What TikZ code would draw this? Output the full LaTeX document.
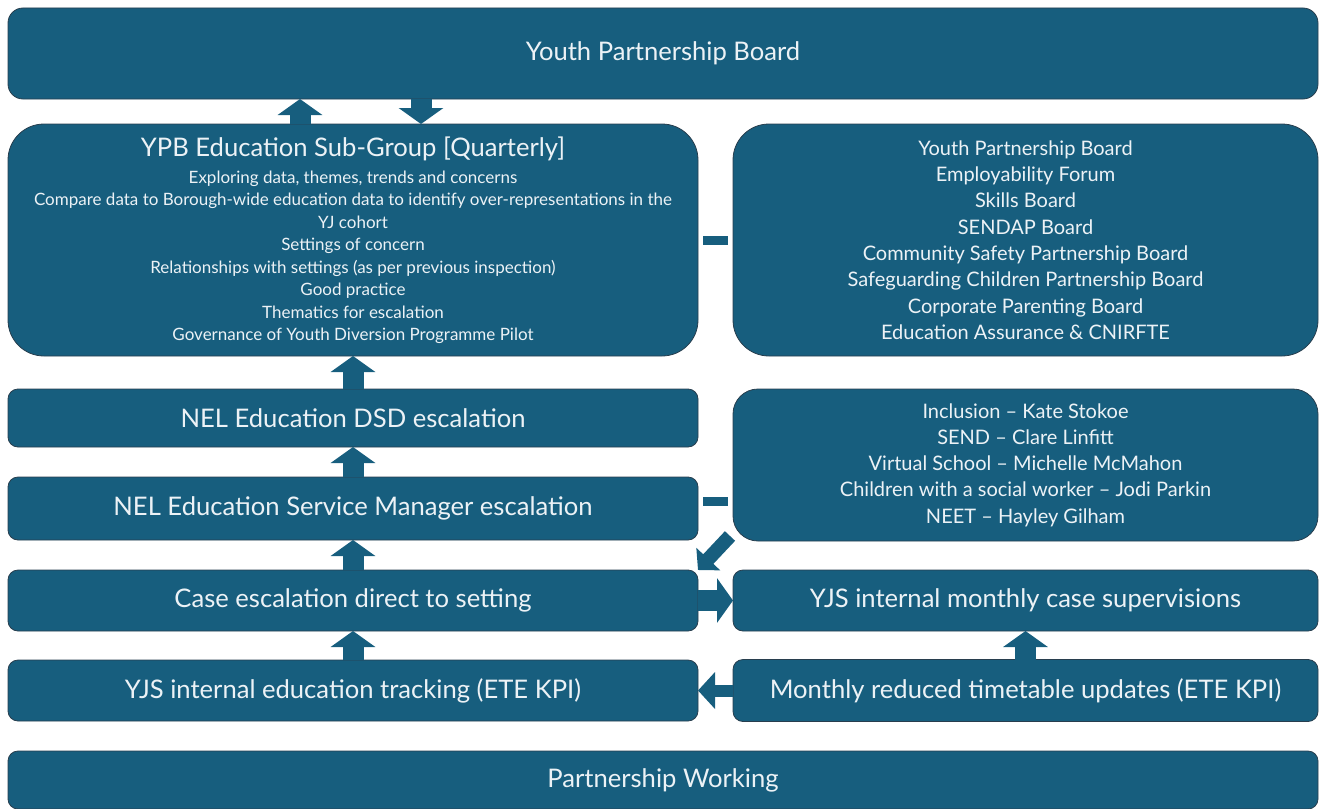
\documentclass[tikz,border=0pt]{standalone}
\usepackage{fontspec}
\setmainfont{Lato}
\usetikzlibrary{positioning,arrows.meta}

\definecolor{boxblue}{RGB}{23,94,126}
\definecolor{boxedge}{RGB}{40,62,78}
\definecolor{boxtext}{RGB}{236,242,246}

\begin{document}
\begin{tikzpicture}[x=1pt, y=-1pt,
    block/.style={rectangle, draw=boxedge, line width=0.8pt, fill=boxblue, text=boxtext, rounded corners=10pt, align=center, inner sep=0pt, outer sep=0pt},
    wbox/.style={block, minimum width=1310pt},
    lbox/.style={block, minimum width=690pt},
    rbox/.style={block, minimum width=585pt},
    bigtext/.style={font=\fontsize{25.6}{30}\selectfont},
    smalltext/.style={font=\fontsize{17}{22.5}\selectfont},
    midtext/.style={font=\fontsize{20}{26.3}\selectfont},
    blockarrow/.style={line width=21pt, draw=boxblue, -{Triangle[width=44pt,length=16pt]}},
    link/.style={line width=9pt, draw=boxblue}
]
\useasboundingbox (0,0) rectangle (1321,808);

% Board on top
\node[wbox, bigtext, minimum height=91pt, rounded corners=15pt, anchor=north west] (ypbtop) at (8,8) {Youth Partnership Board};

% Left column
\node[lbox, minimum height=232pt, rounded corners=36pt, smalltext, below=25pt of ypbtop.south west, anchor=north west] (subgroup) {{\fontsize{25.6}{30}\selectfont YPB Education Sub-Group [Quarterly]}\\[4.5pt]
Exploring data, themes, trends and concerns\\
Compare data to Borough-wide education data to identify over-representations in the\\
YJ cohort\\
Settings of concern\\
Relationships with settings (as per previous inspection)\\
Good practice\\
Thematics for escalation\\
Governance of Youth Diversion Programme Pilot};
\node[lbox, bigtext, minimum height=58pt, below=33pt of subgroup.south west, anchor=north west] (dsd) {NEL Education DSD escalation};
\node[lbox, bigtext, minimum height=63pt, below=30pt of dsd.south west, anchor=north west] (esm) {NEL Education Service Manager escalation};
\node[lbox, bigtext, minimum height=61pt, below=30pt of esm.south west, anchor=north west] (case) {Case escalation direct to setting};
\node[lbox, bigtext, minimum height=61pt, below=29pt of case.south west, anchor=north west] (track) {YJS internal education tracking (ETE KPI)};

% Right column
\node[rbox, midtext, minimum height=232pt, rounded corners=36pt, right=35pt of subgroup] (boards) {Youth Partnership Board\\
Employability Forum\\
Skills Board\\
SENDAP Board\\
Community Safety Partnership Board\\
Safeguarding Children Partnership Board\\
Corporate Parenting Board\\
Education Assurance \& CNIRFTE};
\node[rbox, midtext, minimum height=152pt, rounded corners=25pt, right=35pt of dsd.north east, anchor=north west] (leads) {Inclusion – Kate Stokoe\\
SEND – Clare Linfitt\\
Virtual School – Michelle McMahon\\
Children with a social worker – Jodi Parkin\\
NEET – Hayley Gilham};
\node[rbox, bigtext, minimum height=61pt, right=35pt of case] (sup) {YJS internal monthly case supervisions};
\node[rbox, bigtext, minimum height=62pt, right=35pt of track] (reduced) {Monthly reduced timetable updates (ETE KPI)};

% Bottom
\node[wbox, bigtext, minimum height=58pt, below=30pt of track.south west, anchor=north west] (partner) {Partnership Working};

% Arrows
\draw[blockarrow] ([xshift=-53pt]subgroup.north) -- ([xshift=-53pt]subgroup.north |- ypbtop.south);
\draw[blockarrow] ([xshift=68pt]subgroup.north |- ypbtop.south) -- ([xshift=68pt]subgroup.north);
\draw[blockarrow] (dsd) -- (subgroup);
\draw[blockarrow] (esm) -- (dsd);
\draw[blockarrow] (case) -- (esm);
\draw[blockarrow] (track) -- (case);
\draw[blockarrow] (reduced) -- (sup);
\draw[blockarrow] (case.east) -- (case.east -| sup.west);
\draw[blockarrow, line width=12pt, -{Triangle[width=36pt,length=17pt]}] (reduced.west) -- (reduced.west -| track.east);
\draw[blockarrow, line width=14pt, -{Triangle[width=32pt,length=15pt]}] ([xshift=-3pt,yshift=5pt]leads.south west) -- (case.north east);

% Links
\draw[link, shorten <=5pt, shorten >=5pt] (subgroup.east) -- (boards.west);
\draw[link, shorten <=5pt, shorten >=5pt] ([yshift=7pt]esm.east) -- ([yshift=7pt]esm.east -| leads.west);

\end{tikzpicture}
\end{document}
